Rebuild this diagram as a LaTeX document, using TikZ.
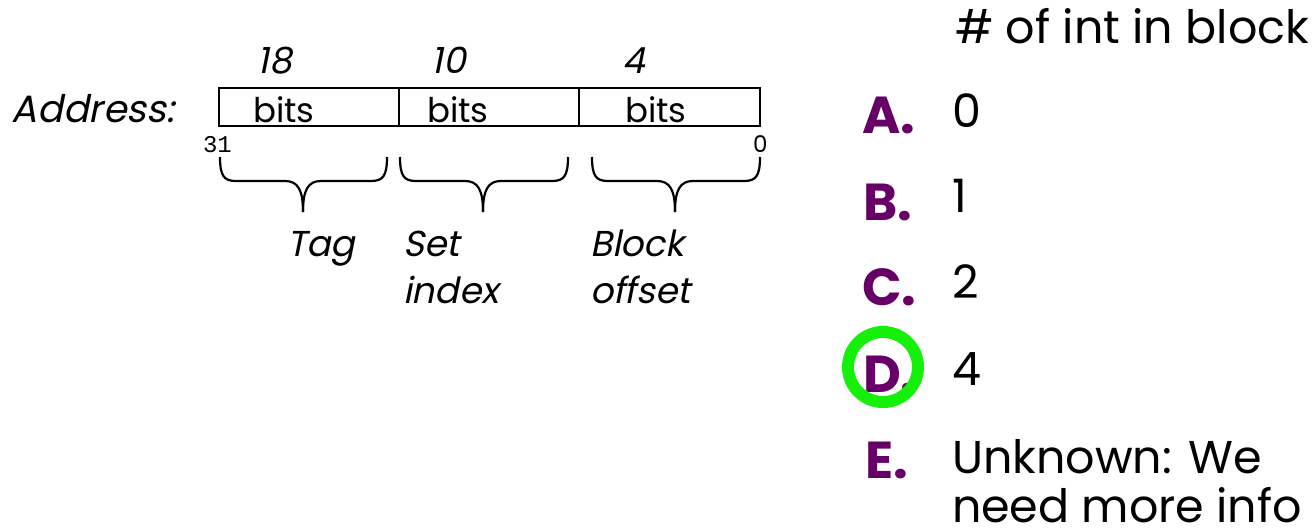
\documentclass[tikz,border=0pt]{standalone}
\usepackage{fontspec}
\setmainfont{Poppins}[AutoFakeSlant=0.2]
\newfontfamily\monofont{Liberation Mono}
\definecolor{optpurple}{RGB}{102,0,102}
\definecolor{ringgreen}{RGB}{20,240,10}
\tikzset{
  lbl/.style={inner sep=0pt, outer sep=0pt, anchor=base west},
  lblc/.style={inner sep=0pt, outer sep=0pt, anchor=base},
  ital/.style={font=\fontsize{36}{44}\selectfont\itshape},
  bitsf/.style={font=\fontsize{34}{40}\selectfont},
  opt/.style={lbl, text=optpurple, font=\fontsize{52}{60}\selectfont\bfseries},
  ans/.style={lbl, font=\fontsize{46}{56}\selectfont},
  bracepath/.style={line width=2.2pt, line join=round},
  field/.style={draw, line width=2pt, minimum height=38pt, inner sep=0pt, outer sep=0pt, anchor=north west}
}
\begin{document}
\begin{tikzpicture}[x=1pt,y=-1pt]
\useasboundingbox (0,0) rectangle (1312,531);
% address fields
\node[field, minimum width=180pt] (ftag) at (219,88) {};
\node[field, minimum width=180pt] (fset) at (399,88) {};
\node[field, minimum width=181pt] (foff) at (579,88) {};
\node[lbl, font=\fontsize{38}{46}\selectfont\itshape] (addr) at (12,122) {Address:};
\node[lblc, bitsf] (b1) at (284,122) {bits};
\node[lblc, bitsf] (b2) at (458,122) {bits};
\node[lblc, bitsf] (b3) at (656,122) {bits};
\node[lblc, ital] (n18) at (275,73) {18};
\node[lblc, ital] (n10) at (449,73) {10};
\node[lblc, ital] (n4) at (634,73) {4};
\node[lbl, font=\fontsize{24}{28}\selectfont\monofont] (b31) at (203,152) {31};
\node[lbl, font=\fontsize{23}{28}\selectfont] (b0) at (753,152) {0};
% braces
\foreach \L/\M/\R in {220/303/387, 400/483/568, 592/675/760}{
  \draw[bracepath] (\L,157) .. controls (\L,176) and (\L+4,181) .. (\L+16,181)
     -- (\M-18,181) .. controls (\M-5,181) and (\M,190) .. (\M,212);
  \draw[bracepath] (\R,157) .. controls (\R,176) and (\R-4,181) .. (\R-16,181)
     -- (\M+18,181) .. controls (\M+5,181) and (\M,190) .. (\M,212);
}
\node[lbl, ital] (tag) at (287,256) {Tag};
\node[lbl, ital] (set) at (403,256) {Set};
\node[lbl, ital] (idx) at (403,303) {index};
\node[lbl, ital] (blk) at (590,256) {Block};
\node[lbl, ital] (ofs) at (590,303) {offset};
% question
\node[ans] (q) at (955,43) {\# of int in block};
\node[opt] (oa) at (862,133) {A.};
\node[ans] (aa) at (952,127) {0};
\node[opt] (ob) at (863,220) {B.};
\node[ans] (ab) at (952,212) {1};
\node[opt] (oc) at (862,305) {C.};
\node[ans] (ac) at (952,298) {2};
\node[opt] (od) at (863,392) {D.};
\node[ans] (ad) at (952,385) {4};
\node[opt] (oe) at (865,478) {E.};
\node[ans] (ae) at (952,473) {Unknown: We};
\node[ans] (ae2) at (952,522) {need more info};
\draw[ringgreen, line width=12pt] (883,367) circle[radius=35];
\end{tikzpicture}
\end{document}
